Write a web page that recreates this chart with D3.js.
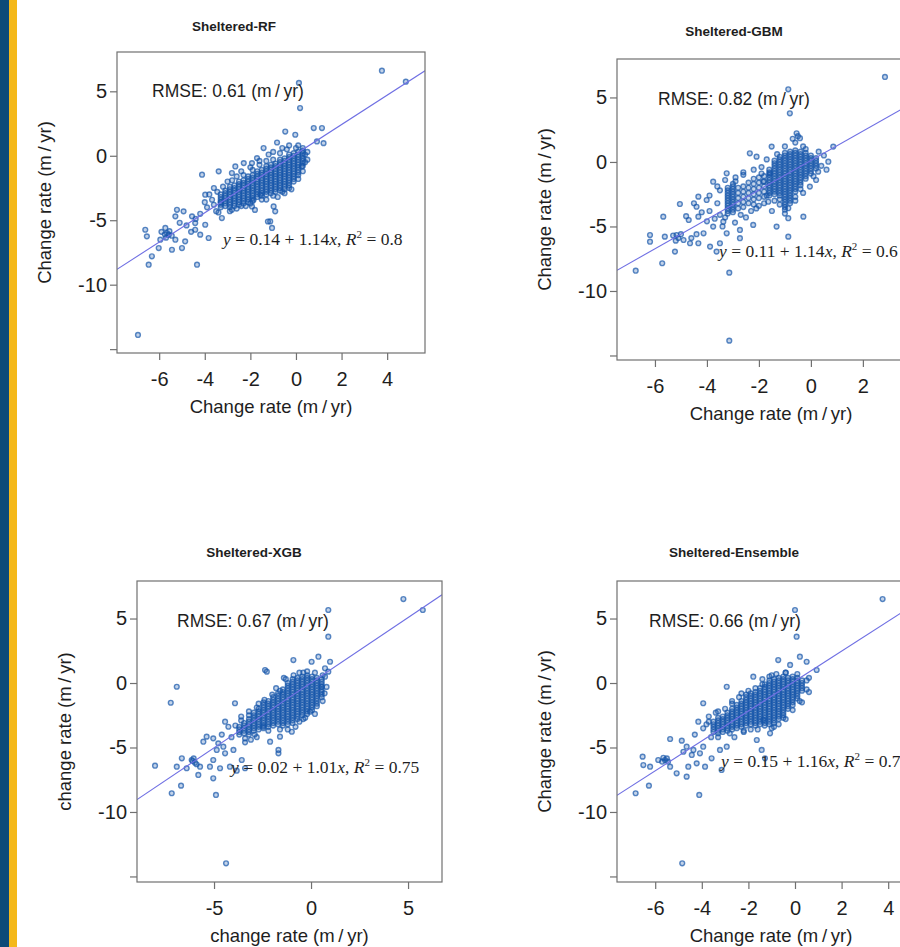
<!DOCTYPE html>
<html>
<head>
<meta charset="utf-8">
<script src="https://cdn.jsdelivr.net/npm/d3@7"></script>
<style>
  body { margin: 0; background: #fff; }
  svg text { font-family: "Liberation Sans", Arial, sans-serif; fill: #1e1e1e; }
</style>
</head>
<body>
<svg id="fig" width="900" height="947"></svg>
<script>
// ---- data ----
var panelTitles = ["Sheltered-RF", "Sheltered-GBM", "Sheltered-XGB", "Sheltered-Ensemble"];
var yTitles = ["Change rate (m\u2009/\u2009yr)", "Change rate (m\u2009/\u2009yr)", "change rate (m\u2009/\u2009yr)", "Change rate (m\u2009/\u2009yr)"];
var xTitles = ["Change rate (m\u2009/\u2009yr)", "Change rate (m\u2009/\u2009yr)", "change rate (m\u2009/\u2009yr)", "Change rate (m\u2009/\u2009yr)"];
var rmseValues = [0.61, 0.82, 0.67, 0.66];
var fitIntercepts = [0.14, 0.11, 0.02, 0.15];
var fitSlopes = [1.14, 1.14, 1.01, 1.16];
var r2Labels = ["0.8", "0.6", "0.75", "0.7"];
var xTickValues = [[-6, -4, -2, 0, 2, 4], [-6, -4, -2, 0, 2], [-5, 0, 5], [-6, -4, -2, 0, 2, 4]];
var yTickValues = [-15, -10, -5, 0, 5];
var yTickLabels = ["", "-10", "-5", "0", "5"];

// scattered points [predicted, observed]
var rfPoints = [[3.77,6.6],[4.82,5.75],[0.13,5.65],[0.18,3.7],[-6.93,-13.9],
  [-0.47,1.88],[-0.03,1.63],[0.78,2.15],[1.14,2.15],[1.21,0.98],[0.92,1.11],[0.26,-0.83],[-1.42,0.6],[-1.71,-0.18],[-1.93,-0.57],[-0.83,1.03],
  [-4.12,-1.47],[-3.39,-1.21],[-2.81,-1.34],[-2.66,-0.83],[-2.29,-0.57],[-3.98,-3.02],[-3.68,-3.41],[-3.25,-4.83],[-2.81,-4.19],[-1.93,-3.93],
  [-1.86,-3.41],[-1.13,-5.09],[-0.98,-3.93],[-0.91,-4.31],[-1.56,-3.02],[-5.22,-4.19],[-4.93,-4.31],[-4.56,-4.7],[-5.29,-4.7],[-4.42,-5.22],
  [-3.98,-5.35],[-6.61,-5.74],[-6.54,-6.25],[-5.95,-6.51],[-5.58,-6.12],[-5.29,-6.51],[-4.86,-6.64],[-5.0,-7.16],[-5.44,-7.29],[-6.02,-7.16],
  [-6.32,-7.8],[-6.46,-8.45],[-4.34,-8.45],[-4.42,-5.74],[-4.2,-6.12],[-3.83,-6.38],[-5.73,-5.6],[-5.66,-5.99],[-1.8,-4.2],[-1.23,-5.1],
  [-1.05,-5.6],[-5.75,-6.1],[-5.55,-5.85],[-5.45,-6.2],[-5.7,-6.35],[-5.9,-5.9],[-3.0,-2.0],[-2.6,-1.6],[-2.4,-1.2],[-2.0,-0.9],[-1.6,-0.4],
  [-1.2,0.1],[-1.0,0.3],[-0.6,0.6],[-0.3,0.8],[0.1,0.8],[0.3,0.6],[0.5,0.3],[0.4,-0.5],[-0.2,-2.6],[-0.5,-2.9],[-0.8,-3.2],[-1.3,-3.4],
  [-2.2,-3.9],[-2.6,-4.1],[-3.5,-4.3],[-3.6,-3.8],[-3.9,-4.0],[-4.4,-4.9],[-4.8,-5.4],[-5.1,-5.2],[-4.6,-5.9],[-3.3,-3.6],[-3.45,-2.8],
  [-3.8,-3.0],[-3.6,-2.5],[-3.2,-2.4],[-2.8,-1.9],[-2.3,-1.5],[-1.9,-1.1],[-1.6,-0.7],[-1.3,-0.4],[-1.0,-0.3],[-0.7,0.2],[-0.4,0.5],
  [0.0,0.6],[0.4,0.1],[0.5,-0.3],[0.3,-1.2],[0.1,-1.8],[-0.3,-2.5],[-0.6,-2.8],[-1.0,-3.1],[-1.5,-3.4],[-2.0,-3.7],[-2.4,-3.9],
  [-2.9,-4.3],[-3.4,-4.4],[-4.2,-4.5],[-4.0,-3.6]];

var gbmPoints = [[2.85,6.59],[-0.81,3.77],[-0.87,5.63],[-3.14,-13.85],[-6.74,-8.43],[-5.72,-7.85],[-3.14,-8.58],[-6.19,-5.66],[-6.19,-6.18],
  [-5.68,-4.24],[-5.23,-6.95],[-5.04,-3.26],[-5.62,-5.79],[-5.17,-5.66],[-4.9,-6.05],[-4.65,-6.3],[-4.33,-6.3],[-4.13,-5.53],[-3.88,-6.56],
  [-3.63,-6.95],[-3.5,-6.3],[-3.24,-5.53],[-2.73,-5.91],[-2.73,-5.27],[-3.37,-4.63],[-2.92,-4.7],[-3.76,-5.01],[-4.33,-4.24],[-4.4,-3.47],
  [-4.33,-2.69],[-4.01,-2.95],[-3.76,-1.53],[-3.24,-0.88],[-2.35,0.67],[-2.09,0.41],[-1.51,1.19],[-0.55,2.22],[-0.42,1.84],[0.67,0.02],
  [0.86,1.19],[0.28,-0.75],[-0.04,-1.91],[-0.87,-3.59],[-0.87,-4.36],[-0.87,-5.79],[-1.32,-5.01],[-2.22,-4.88],[-1.64,-3.08],[-0.29,-4.24],
  [-1.83,-1.53],[-1.58,-0.88],[-5.3,-5.7],[-5.1,-5.9],[-5.2,-6.1],[-5.0,-5.6],[-4.6,-5.9],[-4.4,-5.6],[-3.6,-3.2],[-3.5,-4.1],[-3.9,-3.8],
  [-3.4,-5.0],[-2.5,-4.3],[-2.3,-3.8],[-2.0,-3.4],[-1.7,-2.6],[-1.5,-3.8],[-1.2,-2.9],[-1.0,-4.0],[-0.6,-3.0],[-0.3,-2.4],[0.2,-1.4],
  [0.4,-0.3],[0.5,0.5],[-0.2,1.0],[-0.6,1.5],[-0.5,2.0],[-0.7,1.8],[-1.0,1.2],[-1.9,-0.4],[-2.6,-1.0],[-2.9,-1.2],[-3.5,-2.2],[-4.0,-4.6],[-4.7,-4.5],
  [-2.6,-0.8],[-2.2,-0.6],[-1.9,-0.9],[-1.7,0.2],[-1.3,0.6],[-0.3,1.2],[0.3,0.8],[0.6,-0.6],[0.1,-1.1],[-0.4,-2.1],[-0.6,-2.7],
  [-1.2,-3.3],[-1.4,-3.0],[-1.8,-3.2],[-2.1,-3.6],[-2.7,-4.1],[-3.3,-4.3],[-3.7,-4.4],[-3.9,-2.6],[-3.6,-1.9],[-3.3,-1.4],[-2.9,-1.5],
  [-4.2,-3.9],[-4.5,-3.2],[-4.8,-4.2]];

var xgbPoints = [[4.76,6.51],[5.76,5.66],[0.89,5.66],[0.89,3.59],[-4.38,-13.98],[-6.92,-0.29],[-7.23,-1.53],[-8.04,-6.41],[-7.18,-8.55],
  [-6.7,-7.96],[-4.9,-8.68],[-0.91,1.78],[0.38,2.04],[0.03,1.65],[0.98,1.65],[0.72,1.14],[0.89,0.88],[0.72,0.49],[0.55,-0.29],[-0.05,-2.22],
  [-2.37,1.01],[-2.28,0.88],[-3.92,-1.57],[-2.46,-3.39],[-1.6,-4.16],[-1.68,-5.19],[-2.11,-4.55],[-0.99,-3.78],[-1.68,-5.45],[-3.57,-5.97],
  [-3.83,-6.8],[-3.4,-6.61],[-4.18,-6.49],[-4.69,-6.61],[-5.04,-5.97],[-5.21,-6.49],[-5.04,-7.39],[-5.81,-7.13],[-5.72,-6.49],[-6.15,-5.97],
  [-6.66,-5.84],[-6.92,-6.49],[-6.41,-6.61],[-5.55,-4.55],[-5.38,-4.16],[-5.04,-4.29],[-4.78,-4.68],[-4.52,-4.94],[-4.86,-5.19],[-4.43,-5.45],
  [-4.0,-5.19],[-4.26,-3.39],[-4.43,-3.0],[-5.98,-6.18],[-6.1,-6.05],[-5.9,-6.3],[-6.05,-5.85],[-3.1,-4.4],[-2.8,-4.2],[-3.4,-4.6],
  [-1.2,-3.6],[-0.6,-3.0],[-0.3,-2.7],[0.3,-1.8],[0.7,-0.8],[-0.2,0.9],[-0.6,0.8],[-1.4,0.4],[-1.8,-0.4],[-2.7,-1.6],[-3.2,-2.2],[-3.6,-2.6],
  [-3.9,-3.3],[-3.6,-2.9],[-3.2,-2.5],[-2.8,-1.9],[-2.4,-1.3],[-2.0,-0.9],[-1.6,-0.6],[-1.3,0.3],[-0.9,0.6],[-0.4,0.8],[0.2,0.8],
  [0.6,0.6],[0.8,-0.3],[0.6,-1.4],[0.2,-2.4],[-0.4,-2.8],[-0.8,-3.4],[-1.6,-3.6],[-2.2,-3.7],[-2.9,-4.0],[-3.4,-4.3],[-4.1,-4.2],[-4.6,-4.0]];

var ensPoints = [[3.76,6.51],[0.07,3.59],[0.0,5.66],[-4.84,-13.98],[-6.84,-8.55],[-6.27,-7.96],[-4.11,-8.68],[0.93,1.01],[0.21,2.04],
  [0.5,1.65],[-0.72,1.78],[-0.21,1.4],[-1.79,0.49],[-2.93,-0.29],[-3.94,-1.57],[-4.15,-3.0],[-3.94,-3.51],[-5.36,-4.34],[-4.86,-4.47],
  [-4.65,-4.94],[-4.36,-5.19],[-4.08,-5.45],[-3.94,-4.94],[-3.58,-5.84],[-3.15,-6.74],[-3.22,-5.19],[-2.93,-4.94],[-1.64,-4.42],[-1.43,-5.19],
  [-1.29,-5.84],[-1.07,-3.9],[-1.36,-2.87],[-6.54,-5.71],[-6.51,-6.36],[-6.22,-6.49],[-5.87,-5.97],[-5.58,-5.97],[-5.36,-6.49],[-5.08,-7.0],
  [-4.65,-7.26],[-4.58,-6.49],[-4.22,-6.23],[-3.86,-6.49],[-4.43,-5.58],[-4.79,-5.33],[-5.7,-6.1],[-5.5,-5.85],[-5.65,-5.8],[-5.45,-6.1],
  [-2.6,-4.2],[-2.2,-3.8],[-1.9,-3.6],[-0.9,-3.4],[-0.5,-2.7],[0.2,-1.4],[0.5,-0.5],[0.6,0.4],[-0.4,0.8],[-1.0,0.6],[-1.4,0.3],
  [-2.3,-0.8],[-2.7,-1.4],[-3.3,-2.2],[-3.7,-3.0],[-3.6,-4.2],
  [-3.8,-3.2],[-3.7,-2.6],[-3.4,-2.3],[-3.0,-2.0],[-2.7,-1.6],[-2.4,-1.1],[-2.0,-0.6],[-1.7,-0.4],[-1.4,-0.1],[-1.1,0.5],[-0.8,0.7],
  [-0.4,0.8],[0.1,0.7],[0.5,0.2],[0.6,-0.7],[0.3,-1.5],[-0.1,-2.1],[-0.4,-2.8],[-0.7,-3.2],[-1.0,-3.5],[-1.6,-3.6],[-2.2,-3.7],
  [-2.8,-3.9],[-3.3,-4.2],[-4.3,-4.0]];

// dense cores: [predicted, observed, observed, ...]
var rfCore = [
  [-3.3,-4.0,-3.8,-3.6,-3.4,-3.2,-3.0],
  [-3.1,-3.9,-3.7,-3.5,-3.3,-3.1,-2.9,-2.7],
  [-2.9,-4.0,-3.8,-3.6,-3.4,-3.2,-3.0,-2.8,-2.6,-2.4],
  [-2.7,-3.9,-3.7,-3.5,-3.3,-3.1,-2.9,-2.7,-2.5,-2.3],
  [-2.5,-3.8,-3.6,-3.4,-3.2,-3.0,-2.8,-2.6,-2.4,-2.2,-2.0],
  [-2.3,-3.7,-3.5,-3.3,-3.1,-2.9,-2.7,-2.5,-2.3,-2.1,-1.9],
  [-2.1,-3.6,-3.4,-3.2,-3.0,-2.8,-2.6,-2.4,-2.2,-2.0,-1.8,-1.6],
  [-1.9,-3.5,-3.3,-3.1,-2.9,-2.7,-2.5,-2.3,-2.1,-1.9,-1.7,-1.5],
  [-1.7,-3.2,-3.0,-2.8,-2.6,-2.4,-2.2,-2.0,-1.8,-1.6,-1.4,-1.2],
  [-1.5,-3.1,-2.9,-2.7,-2.5,-2.3,-2.1,-1.9,-1.7,-1.5,-1.3,-1.1],
  [-1.3,-3.0,-2.8,-2.6,-2.4,-2.2,-2.0,-1.8,-1.6,-1.4,-1.2,-1.0,-0.8],
  [-1.1,-2.9,-2.7,-2.5,-2.3,-2.1,-1.9,-1.7,-1.5,-1.3,-1.1,-0.9,-0.7],
  [-0.9,-2.8,-2.6,-2.4,-2.2,-2.0,-1.8,-1.6,-1.4,-1.2,-1.0,-0.8,-0.6],
  [-0.7,-2.7,-2.5,-2.3,-2.1,-1.9,-1.7,-1.5,-1.3,-1.1,-0.9,-0.7,-0.5,-0.3],
  [-0.5,-2.6,-2.4,-2.2,-2.0,-1.8,-1.6,-1.4,-1.2,-1.0,-0.8,-0.6,-0.4,-0.2],
  [-0.3,-2.3,-2.1,-1.9,-1.7,-1.5,-1.3,-1.1,-0.9,-0.7,-0.5,-0.3,-0.1,0.1],
  [-0.1,-2.0,-1.8,-1.6,-1.4,-1.2,-1.0,-0.8,-0.6,-0.4,-0.2,0.0,0.2],
  [0.1,-1.5,-1.3,-1.1,-0.9,-0.7,-0.5,-0.3,-0.1,0.1,0.3],
  [0.3,-0.8,-0.6,-0.4,-0.2,0.0,0.2,0.4]];

var gbmCore = [
  [-3.2,-4.0,-3.8,-3.6,-3.4,-3.2,-3.0,-2.8,-2.6,-2.4,-2.2,-2.0],
  [-3.0,-3.9,-3.7,-3.5,-3.3,-3.1,-2.9,-2.7,-2.5,-2.3,-2.1,-1.9,-1.7],
  [-2.8,-3.6,-3.2,-2.8,-2.4,-2.0],
  [-2.6,-3.5,-3.1,-2.7,-2.3,-1.9],
  [-2.4,-3.2,-2.8,-2.4,-2.0,-1.6],
  [-2.2,-3.3,-2.9,-2.5,-2.1,-1.7,-1.3],
  [-2.0,-2.8,-2.4,-2.0,-1.6,-1.2],
  [-1.8,-2.7,-2.3,-1.9,-1.5,-1.1],
  [-1.6,-2.6,-2.4,-2.2,-2.0,-1.8,-1.6,-1.4,-1.2,-1.0,-0.8,-0.6],
  [-1.4,-2.5,-2.3,-2.1,-1.9,-1.7,-1.5,-1.3,-1.1,-0.9,-0.7,-0.5,-0.3,-0.1,0.1],
  [-1.2,-2.6,-2.4,-2.2,-2.0,-1.8,-1.6,-1.4,-1.2,-1.0,-0.8,-0.6,-0.4,-0.2,0.0,0.2,0.4],
  [-1.0,-3.7,-3.5,-3.3,-3.1,-2.9,-2.7,-2.5,-2.3,-2.1,-1.9,-1.7,-1.5,-1.3,-1.1,-0.9,-0.7,-0.5,-0.3,-0.1,0.1,0.3,0.5,0.7],
  [-0.8,-3.2,-3.0,-2.8,-2.6,-2.4,-2.2,-2.0,-1.8,-1.6,-1.4,-1.2,-1.0,-0.8,-0.6,-0.4,-0.2,0.0,0.2,0.4,0.6,0.8],
  [-0.6,-2.3,-2.1,-1.9,-1.7,-1.5,-1.3,-1.1,-0.9,-0.7,-0.5,-0.3,-0.1,0.1,0.3,0.5,0.7,0.9],
  [-0.4,-1.8,-1.6,-1.4,-1.2,-1.0,-0.8,-0.6,-0.4,-0.2,0.0,0.2,0.4,0.6,0.8],
  [-0.2,-1.3,-1.1,-0.9,-0.7,-0.5,-0.3,-0.1,0.1,0.3,0.5,0.7],
  [0.0,-0.9,-0.7,-0.5,-0.3,-0.1,0.1,0.3,0.5],
  [0.2,-0.5,-0.3,-0.1,0.1,0.3]];

var xgbCore = [
  [-3.7,-4.0,-3.8,-3.6,-3.4],
  [-3.45,-3.9,-3.7,-3.5,-3.3,-3.1],
  [-3.2,-4.0,-3.8,-3.6,-3.4,-3.2,-3.0,-2.8],
  [-2.95,-3.7,-3.5,-3.3,-3.1,-2.9,-2.7,-2.5,-2.3],
  [-2.7,-3.6,-3.4,-3.2,-3.0,-2.8,-2.6,-2.4,-2.2,-2.0],
  [-2.45,-3.5,-3.3,-3.1,-2.9,-2.7,-2.5,-2.3,-2.1,-1.9,-1.7,-1.5],
  [-2.2,-3.4,-3.2,-3.0,-2.8,-2.6,-2.4,-2.2,-2.0,-1.8,-1.6,-1.4],
  [-1.95,-3.3,-3.1,-2.9,-2.7,-2.5,-2.3,-2.1,-1.9,-1.7,-1.5,-1.3,-1.1],
  [-1.7,-3.2,-3.0,-2.8,-2.6,-2.4,-2.2,-2.0,-1.8,-1.6,-1.4,-1.2,-1.0,-0.8],
  [-1.45,-3.3,-3.1,-2.9,-2.7,-2.5,-2.3,-2.1,-1.9,-1.7,-1.5,-1.3,-1.1,-0.9,-0.7,-0.5],
  [-1.2,-3.2,-3.0,-2.8,-2.6,-2.4,-2.2,-2.0,-1.8,-1.6,-1.4,-1.2,-1.0,-0.8,-0.6,-0.4,-0.2,0.0],
  [-0.95,-3.1,-2.9,-2.7,-2.5,-2.3,-2.1,-1.9,-1.7,-1.5,-1.3,-1.1,-0.9,-0.7,-0.5,-0.3,-0.1,0.1,0.3],
  [-0.7,-2.8,-2.6,-2.4,-2.2,-2.0,-1.8,-1.6,-1.4,-1.2,-1.0,-0.8,-0.6,-0.4,-0.2,0.0,0.2,0.4],
  [-0.45,-2.5,-2.3,-2.1,-1.9,-1.7,-1.5,-1.3,-1.1,-0.9,-0.7,-0.5,-0.3,-0.1,0.1,0.3,0.5],
  [-0.2,-2.4,-2.2,-2.0,-1.8,-1.6,-1.4,-1.2,-1.0,-0.8,-0.6,-0.4,-0.2,0.0,0.2,0.4,0.6],
  [0.05,-2.1,-1.9,-1.7,-1.5,-1.3,-1.1,-0.9,-0.7,-0.5,-0.3,-0.1,0.1,0.3,0.5],
  [0.3,-1.6,-1.4,-1.2,-1.0,-0.8,-0.6,-0.4,-0.2,0.0,0.2,0.4],
  [0.55,-1.1,-0.9,-0.7,-0.5,-0.3,-0.1,0.1,0.3]];

var ensCore = [
  [-3.5,-3.8,-3.6,-3.4,-3.2,-3.0],
  [-3.3,-3.9,-3.7,-3.5,-3.3,-3.1,-2.9,-2.7],
  [-3.1,-3.8,-3.6,-3.4,-3.2,-3.0,-2.8,-2.6],
  [-2.9,-3.7,-3.5,-3.3,-3.1,-2.9,-2.7,-2.5,-2.3],
  [-2.7,-3.6,-3.4,-3.2,-3.0,-2.8,-2.6,-2.4,-2.2,-2.0],
  [-2.5,-3.5,-3.3,-3.1,-2.9,-2.7,-2.5,-2.3,-2.1,-1.9,-1.7],
  [-2.3,-3.4,-3.2,-3.0,-2.8,-2.6,-2.4,-2.2,-2.0,-1.8,-1.6,-1.4],
  [-2.1,-3.3,-3.1,-2.9,-2.7,-2.5,-2.3,-2.1,-1.9,-1.7,-1.5,-1.3,-1.1,-0.9],
  [-1.9,-3.2,-3.0,-2.8,-2.6,-2.4,-2.2,-2.0,-1.8,-1.6,-1.4,-1.2,-1.0,-0.8],
  [-1.7,-3.3,-3.1,-2.9,-2.7,-2.5,-2.3,-2.1,-1.9,-1.7,-1.5,-1.3,-1.1,-0.9,-0.7],
  [-1.5,-3.2,-3.0,-2.8,-2.6,-2.4,-2.2,-2.0,-1.8,-1.6,-1.4,-1.2,-1.0,-0.8,-0.6,-0.4],
  [-1.3,-3.3,-3.1,-2.9,-2.7,-2.5,-2.3,-2.1,-1.9,-1.7,-1.5,-1.3,-1.1,-0.9,-0.7,-0.5,-0.3,-0.1],
  [-1.1,-3.2,-3.0,-2.8,-2.6,-2.4,-2.2,-2.0,-1.8,-1.6,-1.4,-1.2,-1.0,-0.8,-0.6,-0.4,-0.2,0.0,0.2],
  [-0.9,-3.1,-2.9,-2.7,-2.5,-2.3,-2.1,-1.9,-1.7,-1.5,-1.3,-1.1,-0.9,-0.7,-0.5,-0.3,-0.1,0.1,0.3],
  [-0.7,-2.8,-2.6,-2.4,-2.2,-2.0,-1.8,-1.6,-1.4,-1.2,-1.0,-0.8,-0.6,-0.4,-0.2,0.0,0.2,0.4],
  [-0.5,-2.5,-2.3,-2.1,-1.9,-1.7,-1.5,-1.3,-1.1,-0.9,-0.7,-0.5,-0.3,-0.1,0.1,0.3,0.5],
  [-0.3,-2.0,-1.8,-1.6,-1.4,-1.2,-1.0,-0.8,-0.6,-0.4,-0.2,0.0,0.2,0.4],
  [-0.1,-1.7,-1.5,-1.3,-1.1,-0.9,-0.7,-0.5,-0.3,-0.1,0.1,0.3,0.5],
  [0.1,-1.2,-1.0,-0.8,-0.6,-0.4,-0.2,0.0,0.2,0.4],
  [0.3,-0.6,-0.4,-0.2,0.0,0.2]];

// ---- layout (pixels) ----
var panels = [
  { box: [117, 52, 308, 301], xDom: [-7.85, 5.66], yDom: [-15.3, 8.05], titleDy: 21, rmse: [35, 45], eq: [106, 193] },
  { box: [617, 59, 308, 301], xDom: [-7.46, 4.39], yDom: [-15.35, 7.98], titleDy: 23, rmse: [41, 46], eq: [102, 198] },
  { box: [137, 581, 305, 301], xDom: [-8.97, 6.75], yDom: [-15.43, 7.91], titleDy: 24, rmse: [40, 46], eq: [94, 192] },
  { box: [617, 581, 308, 301], xDom: [-7.64, 5.58], yDom: [-15.43, 7.91], titleDy: 24, rmse: [32, 46], eq: [104, 186] }
];

function expandCore(cols) {
  var out = [];
  cols.forEach(function(c) {
    c.slice(1).forEach(function(v) { out.push([c[0], v]); });
  });
  return out;
}

var allPoints = [
  expandCore(rfCore).concat(rfPoints),
  expandCore(gbmCore).concat(gbmPoints),
  expandCore(xgbCore).concat(xgbPoints),
  expandCore(ensCore).concat(ensPoints)
];

var svg = d3.select("#fig");
var fmt = d3.format(".2f");

// side stripes
svg.append("rect").attr("x", 0).attr("y", 0).attr("width", 9).attr("height", 947).attr("fill", "#0c4a78");
svg.append("rect").attr("x", 9).attr("y", 0).attr("width", 8).attr("height", 947).attr("fill", "#f4b81a");

var defs = svg.append("defs");

panels.forEach(function(p, i) {
  var bx = p.box[0], by = p.box[1], bw = p.box[2], bh = p.box[3];
  var x = d3.scaleLinear().domain(p.xDom).range([bx, bx + bw]);
  var y = d3.scaleLinear().domain(p.yDom).range([by + bh, by]);

  defs.append("clipPath").attr("id", "clip" + i)
    .append("rect").attr("x", bx).attr("y", by).attr("width", bw).attr("height", bh);

  var g = svg.append("g").attr("class", "panel");
  var plot = g.append("g").attr("clip-path", "url(#clip" + i + ")");

  plot.selectAll("circle")
    .data(allPoints[i])
    .join("circle")
    .attr("cx", function(d) { return x(d[0]); })
    .attr("cy", function(d) { return y(d[1]); })
    .attr("r", 2.4)
    .attr("fill", "#1656aa")
    .attr("fill-opacity", 0.26)
    .attr("stroke", "#1656aa")
    .attr("stroke-opacity", 0.7)
    .attr("stroke-width", 1.4);

  // fitted line across the plot
  var a = fitIntercepts[i], b = fitSlopes[i];
  plot.append("line")
    .attr("x1", x(p.xDom[0])).attr("y1", y(a + b * p.xDom[0]))
    .attr("x2", x(p.xDom[1])).attr("y2", y(a + b * p.xDom[1]))
    .attr("stroke", "#6f6fe3")
    .attr("stroke-width", 1.1);

  // box
  g.append("rect")
    .attr("x", bx).attr("y", by).attr("width", bw).attr("height", bh)
    .attr("fill", "none").attr("stroke", "#707070").attr("stroke-width", 1.2);

  // axes
  var xAxis = g.append("g")
    .attr("transform", "translate(0," + (by + bh) + ")")
    .call(d3.axisBottom(x).tickValues(xTickValues[i]).tickSize(7).tickSizeOuter(0).tickPadding(12)
      .tickFormat(function(d) { return String(d); }));
  var yAxis = g.append("g")
    .attr("transform", "translate(" + bx + ",0)")
    .call(d3.axisLeft(y).tickValues(yTickValues).tickSize(7).tickSizeOuter(0).tickPadding(3)
      .tickFormat(function(d, k) { return yTickLabels[k]; }));
  [xAxis, yAxis].forEach(function(ax) {
    ax.select(".domain").remove();
    ax.selectAll(".tick line").attr("stroke", "#707070").attr("stroke-width", 1.2);
    ax.selectAll(".tick text")
      .attr("font-family", "Liberation Sans, Arial, sans-serif")
      .attr("font-size", 20).attr("fill", "#1e1e1e");
  });

  // titles
  g.append("text")
    .attr("x", bx + 117).attr("y", by - p.titleDy)
    .attr("text-anchor", "middle")
    .attr("font-size", 13.5).attr("font-weight", "bold")
    .text(panelTitles[i]);

  g.append("text")
    .attr("x", bx + bw / 2).attr("y", by + bh + 60)
    .attr("text-anchor", "middle")
    .attr("font-size", 18.5)
    .text(xTitles[i]);

  g.append("text")
    .attr("transform", "translate(" + (bx - 66) + "," + (by + bh / 2) + ")rotate(-90)")
    .attr("text-anchor", "middle")
    .attr("font-size", 18.5)
    .text(yTitles[i]);

  // RMSE label
  g.append("text")
    .attr("x", bx + p.rmse[0]).attr("y", by + p.rmse[1])
    .attr("font-size", 17.5)
    .text("RMSE: " + fmt(rmseValues[i]) + " (m\u2009/\u2009yr)");

  // regression equation
  var eq = g.append("text")
    .attr("x", bx + p.eq[0]).attr("y", by + p.eq[1])
    .attr("font-size", 17.5)
    .style("font-family", "'Liberation Serif', 'Times New Roman', serif");
  eq.append("tspan").attr("font-style", "italic").text("y");
  eq.append("tspan").text(" = " + fmt(a) + " + " + fmt(b));
  eq.append("tspan").attr("font-style", "italic").text("x");
  eq.append("tspan").text(", ");
  eq.append("tspan").attr("font-style", "italic").text("R");
  eq.append("tspan").attr("font-size", 11).attr("dy", -7).text("2");
  eq.append("tspan").attr("dy", 7).text(" = " + r2Labels[i]);
});
</script>
</body>
</html>
